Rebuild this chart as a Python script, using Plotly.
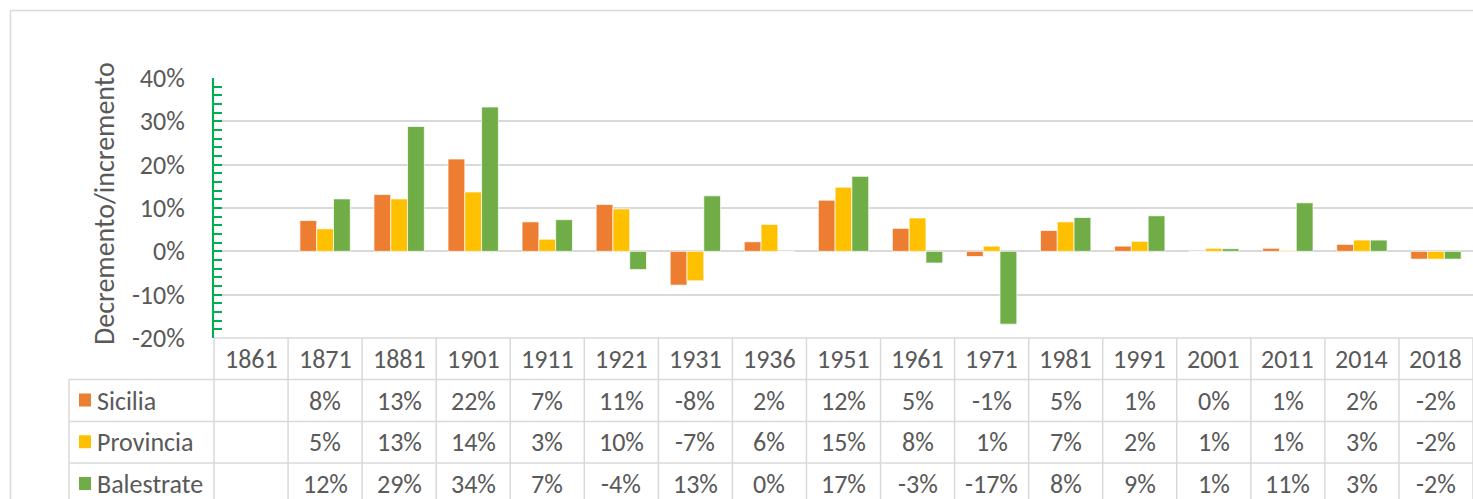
import plotly.graph_objects as go

# ---------------- data ----------------
categories = ["1861", "1871", "1881", "1901", "1911", "1921", "1931", "1936", "1951",
              "1961", "1971", "1981", "1991", "2001", "2011", "2014", "2018"]

series_names = ["Sicilia", "Provincia", "Balestrate"]

sicilia = [None, 0.071, 0.131, 0.213, 0.068, 0.108, -0.078, 0.022, 0.118,
           0.053, -0.012, 0.048, 0.012, 0.0, 0.007, 0.016, -0.018]
provincia = [None, 0.052, 0.121, 0.137, 0.028, 0.098, -0.068, 0.062, 0.148,
             0.077, 0.012, 0.068, 0.023, 0.007, 0.002, 0.026, -0.018]
balestrate = [None, 0.121, 0.288, 0.333, 0.073, -0.042, 0.128, 0.0, 0.173,
              -0.027, -0.168, 0.078, 0.082, 0.006, 0.112, 0.026, -0.018]

# values as printed in the data table
sicilia_lbl = ["", "8%", "13%", "22%", "7%", "11%", "-8%", "2%", "12%", "5%",
               "-1%", "5%", "1%", "0%", "1%", "2%", "-2%"]
provincia_lbl = ["", "5%", "13%", "14%", "3%", "10%", "-7%", "6%", "15%", "8%",
                 "1%", "7%", "2%", "1%", "1%", "3%", "-2%"]
balestrate_lbl = ["", "12%", "29%", "34%", "7%", "-4%", "13%", "0%", "17%", "-3%",
                  "-17%", "8%", "9%", "1%", "11%", "3%", "-2%"]

y_tickvals = [-0.2, -0.1, 0.0, 0.1, 0.2, 0.3, 0.4]
y_ticktext = ["-20%", "-10%", "0%", "10%", "20%", "30%", "40%"]

y_title = "Decremento/incremento"

# ---------------- style / layout ----------------
colors = ["#ED7D31", "#FFC000", "#70AD47"]
FONT = "Calibri, Carlito, Lato, sans-serif"
TXT = "#595959"
GRID = "#D9D9D9"
GREEN_AXIS = "#00B050"
FS = 26
FS_TITLE = 28

W, H = 1473, 499
L, R, T, B = 214, 0, 78, 161
PW, PH = W - L - R, H - T - B
plot_bottom = T + PH


def px_x(px):
    return (px - L) / PW


def px_y(py):
    return (plot_bottom - py) / PH


fig = go.Figure()
for name, vals, col in zip(series_names, [sicilia, provincia, balestrate], colors):
    fig.add_trace(go.Bar(
        x=categories, y=vals, name=name,
        marker=dict(color=col, line=dict(color="rgba(255,255,255,0.7)", width=1)),
        showlegend=False,
    ))

shapes = []
line_style = dict(color=GRID, width=1.5)

# table geometry (pixel rows)
row_edges = [plot_bottom, 379.5, 421.5, 463, 505]
left_col_x = px_x(69)
bottom_y = px_y(510)

n = len(categories)
# vertical lines at category boundaries
for i in range(n + 1):
    shapes.append(dict(type="line", xref="paper", yref="paper",
                       x0=i / n, x1=i / n, y0=0, y1=bottom_y, line=line_style))
# header top line
shapes.append(dict(type="line", xref="paper", yref="paper",
                   x0=0, x1=1, y0=0, y1=0, line=line_style))
# row lines
for ry in row_edges[1:]:
    shapes.append(dict(type="line", xref="paper", yref="paper",
                       x0=left_col_x, x1=1, y0=px_y(ry), y1=px_y(ry), line=line_style))
# left border of legend column
shapes.append(dict(type="line", xref="paper", yref="paper",
                   x0=left_col_x, x1=left_col_x, y0=px_y(row_edges[1]), y1=bottom_y,
                   line=line_style))

# outer chart border (top & left)
bx, by = px_x(10.5), px_y(10.5)
shapes.append(dict(type="line", xref="paper", yref="paper",
                   x0=bx, x1=1, y0=by, y1=by, line=dict(color=GRID, width=1.5)))
shapes.append(dict(type="line", xref="paper", yref="paper",
                   x0=bx, x1=bx, y0=by, y1=bottom_y, line=dict(color=GRID, width=1.5)))

annotations = []
# header row categories (category axis positions are indices)
hy = px_y((row_edges[0] + row_edges[1]) / 2)
for i, c in enumerate(categories):
    annotations.append(dict(x=i, xref="x", y=hy, yref="paper", text=c,
                            showarrow=False, xanchor="center", yanchor="middle",
                            font=dict(family=FONT, size=FS, color=TXT)))

# data rows
for r, (name, labels, col) in enumerate(zip(series_names,
                                            [sicilia_lbl, provincia_lbl, balestrate_lbl],
                                            colors)):
    cy_px = (row_edges[r + 1] + row_edges[r + 2]) / 2
    cy = px_y(cy_px)
    for i, t in enumerate(labels):
        if t:
            annotations.append(dict(x=i, xref="x", y=cy, yref="paper", text=t,
                                    showarrow=False, xanchor="center", yanchor="middle",
                                    font=dict(family=FONT, size=FS, color=TXT)))
    # legend key
    shapes.append(dict(type="rect", xref="paper", yref="paper",
                       x0=px_x(79), x1=px_x(91), y0=px_y(cy_px - 7), y1=px_y(cy_px + 6),
                       fillcolor=col, line=dict(width=0)))
    annotations.append(dict(x=px_x(95), xref="paper", y=cy, yref="paper", text=name,
                            showarrow=False, xanchor="left", yanchor="middle",
                            font=dict(family=FONT, size=FS, color=TXT)))

# y axis title
annotations.append(dict(x=px_x(104), xref="paper", y=px_y(204), yref="paper",
                        text=y_title, textangle=-90, showarrow=False,
                        xanchor="center", yanchor="middle",
                        font=dict(family=FONT, size=FS_TITLE, color=TXT)))

fig.update_layout(
    width=W, height=H,
    margin=dict(l=L, r=R, t=T, b=B, pad=0),
    paper_bgcolor="white", plot_bgcolor="white",
    barmode="group", bargap=0.32, bargroupgap=0,
    font=dict(family=FONT, size=FS, color=TXT),
    shapes=shapes, annotations=annotations,
    xaxis=dict(type="category", range=[-0.5, n - 0.5], showticklabels=False,
               showgrid=False, zeroline=False, showline=False, ticks=""),
    yaxis=dict(range=[-0.2, 0.4], tickvals=y_tickvals, ticktext=y_ticktext,
               showgrid=True, gridcolor=GRID, gridwidth=1.5,
               zeroline=True, zerolinecolor=GRID, zerolinewidth=1.5,
               showline=True, linecolor=GREEN_AXIS, linewidth=2,
               ticks="inside", ticklen=8, tickwidth=1.5, tickcolor=GREEN_AXIS,
               minor=dict(dtick=0.02, tick0=0, ticks="inside", ticklen=8, tickwidth=1.5,
                          tickcolor=GREEN_AXIS, showgrid=False),
               ticklabelstandoff=22,
               tickfont=dict(family=FONT, size=FS, color=TXT)),
)

fig.write_html("out.html", config={"displayModeBar": False},
               post_script="document.body.style.margin='0px';document.body.style.overflow='hidden';")
